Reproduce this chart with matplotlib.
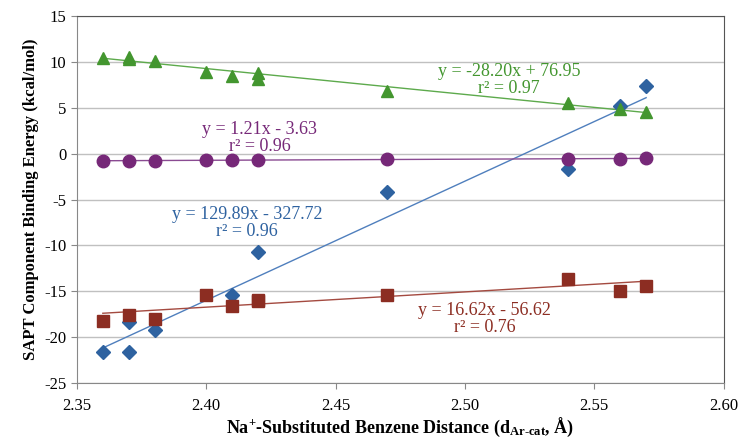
import numpy as np
import matplotlib.pyplot as plt

plt.rcParams['font.family'] = ['Liberation Serif', 'DejaVu Serif']
plt.rcParams['mathtext.fontset'] = 'custom'
plt.rcParams['mathtext.rm'] = 'Liberation Serif:bold'
plt.rcParams['mathtext.it'] = 'Liberation Serif:bold'
plt.rcParams['mathtext.bf'] = 'Liberation Serif:bold'
plt.rcParams['axes.unicode_minus'] = False

# Na+ - benzene distance for each complex
x_blue = [2.36, 2.37, 2.37, 2.38, 2.41, 2.42, 2.47, 2.54, 2.56, 2.57]
y_blue = [-21.6, -18.4, -21.6, -19.2, -15.4, -10.7, -4.2, -1.7, 5.2, 7.4]

x_red = [2.36, 2.37, 2.38, 2.40, 2.41, 2.42, 2.42, 2.47, 2.54, 2.56, 2.57]
y_red = [-18.2, -17.6, -18.0, -15.4, -16.6, -15.9, -16.1, -15.4, -13.7, -15.0, -14.4]

x_green = [2.36, 2.37, 2.37, 2.38, 2.40, 2.41, 2.42, 2.42, 2.47, 2.54, 2.56, 2.57]
y_green = [10.4, 10.5, 10.3, 10.1, 8.9, 8.5, 8.8, 8.1, 6.8, 5.5, 4.9, 4.5]

x_purple = [2.36, 2.37, 2.38, 2.40, 2.41, 2.42, 2.47, 2.54, 2.56, 2.57]
y_purple = [-0.8, -0.8, -0.8, -0.7, -0.7, -0.7, -0.6, -0.55, -0.55, -0.5]

# trendline coefficients (slope, intercept, r2) as printed on the chart
fit_blue = (129.89, -327.72, 0.96)
fit_red = (16.62, -56.62, 0.76)
fit_green = (-28.20, 76.95, 0.97)
fit_purple = (1.21, -3.63, 0.96)

fig = plt.figure(figsize=(7.4, 4.41), dpi=100)
ax = fig.add_axes([0.104, 0.1315, 0.874, 0.8322])

xs = np.array([2.36, 2.57])


def fit_label(fit):
    m, b, r2 = fit
    sign = '+' if b >= 0 else '-'
    return 'y = %.2fx %s %.2f\nr\u00b2 = %.2f' % (m, sign, abs(b), r2)


series = [
    (x_blue, y_blue, fit_blue, '#2e62a0', '#4f7fbd', 'D', 7),
    (x_red, y_red, fit_red, '#8c2d22', '#a44a40', 's', 8.5),
    (x_green, y_green, fit_green, '#43962f', '#5daa4c', '^', 9),
    (x_purple, y_purple, fit_purple, '#762878', '#8a4b92', 'o', 9),
]
for xv, yv, fit, mc, lc, mk, ms in series:
    ax.plot(xs, fit[0] * xs + fit[1], color=lc, lw=1, zorder=2)
for xv, yv, fit, mc, lc, mk, ms in series:
    ax.plot(xv, yv, mk, color=mc, ms=ms, mec=mc, zorder=3)

txt = dict(ha='center', va='center', fontsize=13, linespacing=1.0)
ax.text(2.517, 8.0, fit_label(fit_green), color='#43962f', **txt)
ax.text(2.4207, 1.75, fit_label(fit_purple), color='#762878', **txt)
ax.text(2.4157, -7.6, fit_label(fit_blue), color='#2e62a0', **txt)
ax.text(2.5077, -18.0, fit_label(fit_red), color='#8c2d22', **txt)

ax.set_xlim(2.35, 2.60)
ax.set_ylim(-25, 15)
ax.set_xticks(np.arange(2.35, 2.601, 0.05))
ax.set_xticklabels(['%.2f' % v for v in np.arange(2.35, 2.601, 0.05)])
ax.set_yticks(np.arange(-25, 16, 5))
ax.tick_params(labelsize=12, direction='out', length=4, color='#888888')
ax.tick_params(axis='x', pad=7)
ax.grid(axis='y', color='#c0c0c0', lw=1)
ax.set_axisbelow(True)
for s in ['top', 'right']:
    ax.spines[s].set_color('#555555')
for s in ['left', 'bottom']:
    ax.spines[s].set_color('#888888')

ax.set_ylabel('SAPT Component Binding Energy (kcal/mol)', fontsize=12, fontweight='bold')
ax.set_xlabel('Na$^{+}$-Substituted Benzene Distance (d$_{\\mathrm{Ar\u2010cat}}$, \u00c5)',
              fontsize=13, fontweight='bold', labelpad=1)

fig.savefig('out.png', dpi=100)
